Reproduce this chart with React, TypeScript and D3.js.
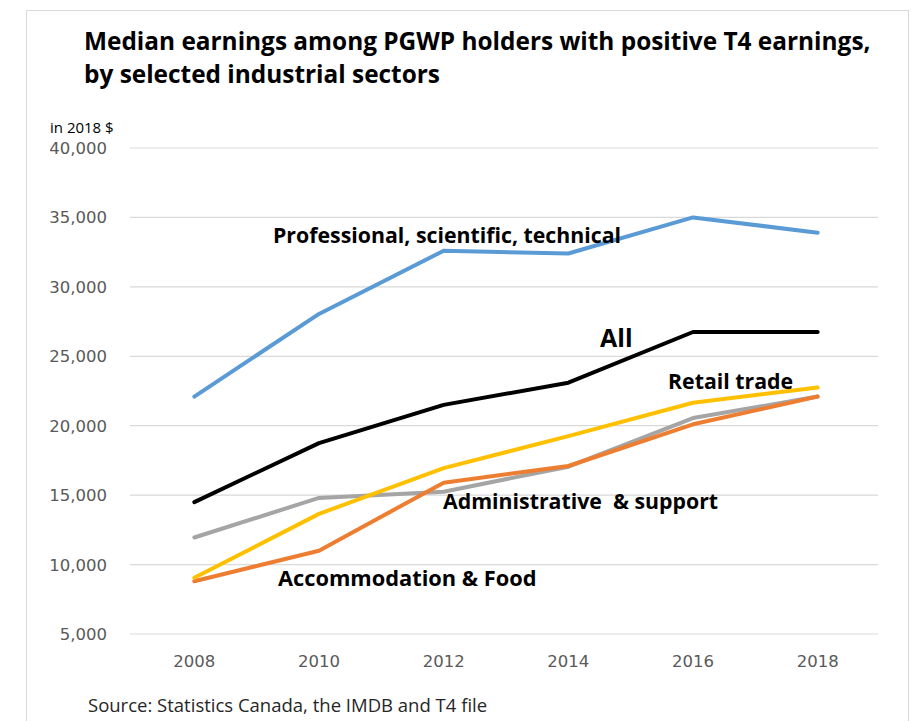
import React, { useEffect, useRef } from "react";
import * as d3 from "d3";

const years = ["2008", "2010", "2012", "2014", "2016", "2018"];
const professional = [22100, 28050, 32600, 32400, 35000, 33900];
const allSectors = [14500, 18750, 21500, 23100, 26750, 26750];
const retail = [9050, 13650, 16950, 19250, 21650, 22750];
const admin = [11950, 14800, 15250, 17050, 20550, 22100];
const accommodation = [8800, 11000, 15900, 17100, 20100, 22100];
const yTicks = [5000, 10000, 15000, 20000, 25000, 30000, 35000, 40000];

const series = [
  { name: "Administrative & support", values: admin, color: "#a5a5a5" },
  { name: "Accommodation & Food", values: accommodation, color: "#ed7d31" },
  { name: "Retail trade", values: retail, color: "#ffc000" },
  { name: "Professional, scientific, technical", values: professional, color: "#5b9bd5" },
  { name: "All", values: allSectors, color: "#000000" },
];

const WIDTH = 915;
const HEIGHT = 721;
const FONT = "'Open Sans', 'Noto Sans', sans-serif";
const TICK_FONT = "'DejaVu Sans', sans-serif";

const App: React.FC = () => {
  const ref = useRef<SVGSVGElement | null>(null);

  useEffect(() => {
    if (!ref.current) return;
    const svg = d3.select(ref.current);
    svg.selectAll("*").remove();

    svg
      .append("rect")
      .attr("x", 26.5)
      .attr("y", 10.5)
      .attr("width", 882)
      .attr("height", 730)
      .attr("fill", "#fff")
      .attr("stroke", "#d9d9d9");

    const x = d3.scalePoint<string>().domain(years).range([132, 880]).padding(0.5);
    const y = d3.scaleLinear().domain([5000, 40000]).range([634, 148]);

    // gridlines
    svg
      .append("g")
      .selectAll("line")
      .data(yTicks)
      .enter()
      .append("line")
      .attr("x1", 130)
      .attr("x2", 878)
      .attr("y1", (d) => y(d))
      .attr("y2", (d) => y(d))
      .attr("stroke", "#d9d9d9")
      .attr("stroke-width", 1.2);

    const fmt = d3.format(",");
    svg
      .append("g")
      .selectAll("text")
      .data(yTicks)
      .enter()
      .append("text")
      .attr("x", 107)
      .attr("y", (d) => y(d))
      .attr("dy", "0.36em")
      .attr("text-anchor", "end")
      .attr("font-family", TICK_FONT)
      .attr("font-size", 16.5)
      .attr("fill", "#595959")
      .text((d) => fmt(d));

    svg
      .append("g")
      .selectAll("text")
      .data(years)
      .enter()
      .append("text")
      .attr("x", (d) => x(d) as number)
      .attr("y", 667)
      .attr("text-anchor", "middle")
      .attr("font-family", TICK_FONT)
      .attr("font-size", 16.5)
      .attr("fill", "#595959")
      .text((d) => d);

    const line = d3
      .line<number>()
      .x((_, i) => x(years[i]) as number)
      .y((d) => y(d));

    svg
      .append("g")
      .selectAll("path")
      .data(series)
      .enter()
      .append("path")
      .attr("d", (d) => line(d.values))
      .attr("fill", "none")
      .attr("stroke", (d) => d.color)
      .attr("stroke-width", 4)
      .attr("stroke-linejoin", "round")
      .attr("stroke-linecap", "round");

    // series labels
    const labels = [
      { text: "Professional, scientific, technical", x: 273, y: 243, size: 21.3 },
      { text: "All", x: 600, y: 347, size: 25 },
      { text: "Retail trade", x: 668, y: 389, size: 21.3 },
      { text: "Administrative  & support", x: 443, y: 509, size: 21.3 },
      { text: "Accommodation & Food", x: 278, y: 586, size: 21.8 },
    ];
    svg
      .append("g")
      .selectAll("text")
      .data(labels)
      .enter()
      .append("text")
      .attr("x", (d) => d.x)
      .attr("y", (d) => d.y)
      .attr("font-family", FONT)
      .attr("font-weight", "bold")
      .attr("font-size", (d) => d.size)
      .attr("fill", "#000")
      .style("white-space", "pre")
      .text((d) => d.text);

    // title
    const title = svg
      .append("text")
      .attr("font-family", FONT)
      .attr("font-weight", "bold")
      .attr("font-size", 24.4)
      .attr("fill", "#000");
    title.append("tspan").attr("x", 84).attr("y", 50).text("Median earnings among PGWP holders with positive T4 earnings,");
    title.append("tspan").attr("x", 84).attr("y", 83).text("by selected industrial sectors");

    svg
      .append("text")
      .attr("x", 50)
      .attr("y", 133)
      .attr("font-family", FONT)
      .attr("font-size", 15)
      .attr("fill", "#000")
      .text("in 2018 $");

    svg
      .append("text")
      .attr("x", 88)
      .attr("y", 712)
      .attr("font-family", FONT)
      .attr("font-size", 18.5)
      .attr("fill", "#262626")
      .text("Source: Statistics Canada, the IMDB and T4 file");
  }, []);

  return (
    <svg
      ref={ref}
      width={WIDTH}
      height={HEIGHT}
      style={{ position: "absolute", left: 0, top: 0, background: "#fff" }}
    ></svg>
  );
};

export default App;
